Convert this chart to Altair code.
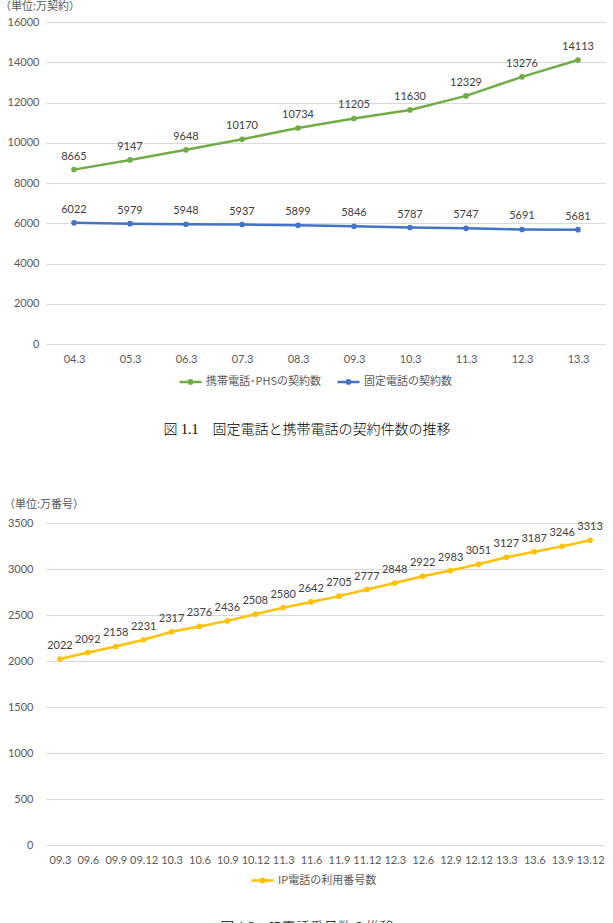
import altair as alt
import pandas as pd

# ---------------- data ----------------
periods1 = ["04.3", "05.3", "06.3", "07.3", "08.3", "09.3", "10.3", "11.3", "12.3", "13.3"]
mobile = [8665, 9147, 9648, 10170, 10734, 11205, 11630, 12329, 13276, 14113]
fixed = [6022, 5979, 5948, 5937, 5899, 5846, 5787, 5747, 5691, 5681]
series1 = ["携帯電話･PHSの契約数", "固定電話の契約数"]
colors1 = ["#70AD47", "#4472C4"]

periods2 = ["09.3", "09.6", "09.9", "09.12", "10.3", "10.6", "10.9", "10.12",
            "11.3", "11.6", "11.9", "11.12", "12.3", "12.6", "12.9", "12.12",
            "13.3", "13.6", "13.9", "13.12"]
ip = [2022, 2092, 2158, 2231, 2317, 2376, 2436, 2508, 2580, 2642,
      2705, 2777, 2848, 2922, 2983, 3051, 3127, 3187, 3246, 3313]
series2 = ["IP電話の利用番号数"]
colors2 = ["#FFC000"]

unit1 = "（単位:万契約）"
unit2 = "（単位:万番号）"
caption1 = "図 1.1　固定電話と携帯電話の契約件数の推移"
caption2 = "図 1.2　IP電話番号数の推移"

df1 = pd.DataFrame({
    "period": periods1 + periods1,
    "value": mobile + fixed,
    "series": [series1[0]] * len(periods1) + [series1[1]] * len(periods1),
})
df2 = pd.DataFrame({
    "period": periods2,
    "value": ip,
    "series": [series2[0]] * len(periods2),
})

FONT = "Lato, Noto Sans CJK JP, sans-serif"
CJK = "Noto Sans CJK JP, sans-serif"
SERIF = "Liberation Serif, Noto Sans CJK JP, serif"
SYMBOL = "M-1,0L1,0M-0.15,0A0.15,0.15 0 1,0 0.15,0A0.15,0.15 0 1,0 -0.15,0"


def make_chart(df, periods, series, colors, ymax, ystep, width, unit, title_dx, title_offset,
               legend_x, legend_y, ylabel_pad):
    x = alt.X("period:O", sort=periods, title=None,
              axis=alt.Axis(labelAngle=0, ticks=False, domain=False, labelPadding=9,
                            labelFontSize=11, labelColor="#595959", labelFont=FONT))
    y = alt.Y("value:Q", title=None,
              scale=alt.Scale(domain=[0, ymax], nice=False, zero=True),
              axis=alt.Axis(values=list(range(0, ymax + 1, ystep)), format="d",
                            ticks=False, domain=False,
                            grid=True, gridColor="#D9D9D9", gridWidth=1,
                            labelPadding=ylabel_pad, labelFontSize=11,
                            labelColor="#595959", labelFont=FONT))
    base = alt.Chart(df).encode(x=x, y=y)
    line = base.mark_line(strokeWidth=2.5).encode(
        color=alt.Color("series:N", sort=series, title=None,
                        scale=alt.Scale(domain=series, range=colors),
                        legend=alt.Legend(orient="none", legendX=legend_x, legendY=legend_y,
                                          direction="horizontal", symbolType=SYMBOL,
                                          symbolSize=484, symbolStrokeWidth=2.5,
                                          labelFont=CJK, labelFontSize=11,
                                          labelColor="#595959", columnPadding=10,
                                          labelOffset=3))
    )
    pts = base.mark_point(filled=True, size=32, opacity=1).encode(
        color=alt.Color("series:N", scale=alt.Scale(domain=series, range=colors), legend=None)
    )
    labels = base.mark_text(dy=-13, fontSize=11, color="#404040", font=FONT).encode(
        text="value:Q"
    )
    return alt.layer(line, pts, labels).properties(
        width=width, height=322,
        title=alt.TitleParams(unit, anchor="start", frame="group", dx=title_dx,
                              offset=title_offset, fontSize=11, font=CJK,
                              fontWeight="normal", color="#595959"),
    )


def make_caption(text, height, yc):
    return alt.Chart(pd.DataFrame({"t": [text]})).mark_text(
        font=SERIF, fontSize=14, fontWeight=300, align="center", baseline="middle",
        color="#000000"
    ).encode(text="t:N", x=alt.value(261), y=alt.value(yc)).properties(width=560, height=height)


c1 = make_chart(df1, periods1, series1, colors1, 16000, 2000, 560, unit1, -46, 4, 132, 347, 7)
c2 = make_chart(df2, periods2, series2, colors2, 3500, 500, 558, unit2, -42, 7, 204, 345, 13)

chart = alt.vconcat(
    c1, make_caption(caption1, 110, 41), c2, make_caption(caption2, 40, 40), spacing=0
).resolve_scale(color="independent").resolve_legend(color="independent").properties(
    padding={"left": 0, "top": 1, "right": 0, "bottom": 0}, background="#ffffff"
).configure_view(strokeOpacity=0, strokeWidth=0)

chart.save("out.html", embed_options={"renderer": "svg", "actions": False})
